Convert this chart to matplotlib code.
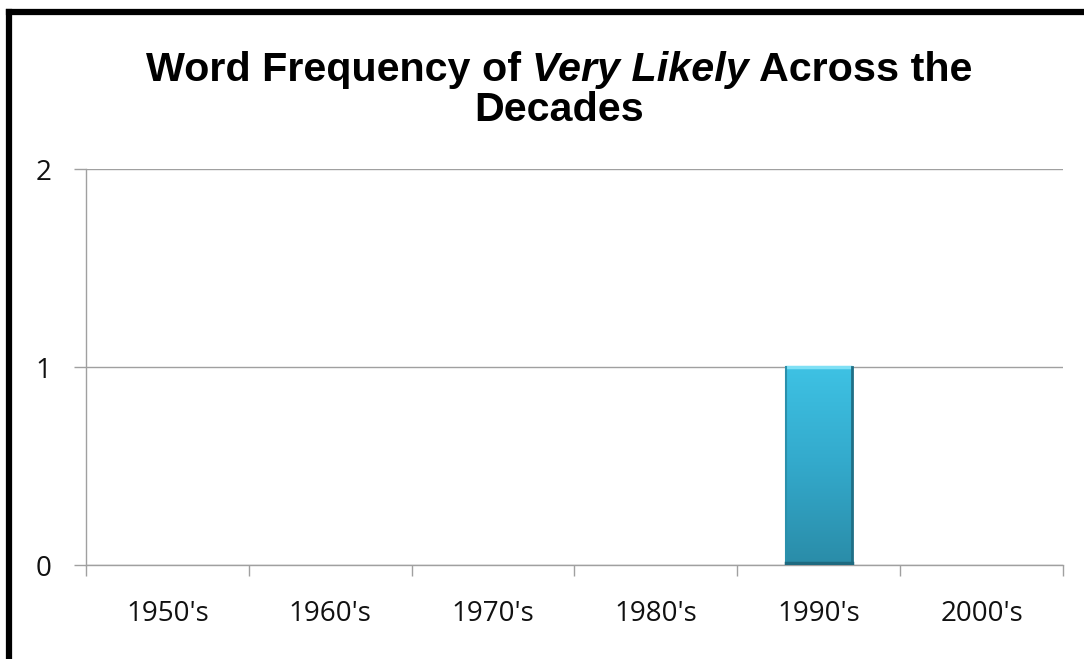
import matplotlib
matplotlib.use("Agg")
import matplotlib.pyplot as plt
import numpy as np
from matplotlib.lines import Line2D
from matplotlib.colors import LinearSegmentedColormap

categories = ["1950's", "1960's", "1970's", "1980's", "1990's", "2000's"]
values = [0, 0, 0, 0, 1, 0]
y_ticks = [0, 1, 2]

W, H = 1084, 659
fig = plt.figure(figsize=(W / 100, H / 100), dpi=100)
fig.patch.set_facecolor("white")

ax = fig.add_axes([86 / W, 1 - 565 / H, (1063 - 86) / W, (565 - 169) / H])
x = np.arange(len(categories))
bars = ax.bar(x, values, width=0.405, color="#35AED0", edgecolor="none", zorder=3)

cmap = LinearSegmentedColormap.from_list("g", ["#2A8CA8", "#33A9CB", "#3EC2E4"])
for b, v in zip(bars, values):
    if v <= 0:
        continue
    x0, w = b.get_x(), b.get_width()
    grad = np.linspace(0, 1, 256).reshape(-1, 1)
    im = ax.imshow(grad, extent=[x0, x0 + w, 0, v], origin="lower", cmap=cmap,
                   aspect="auto", zorder=4)
    im.set_clip_path(b)
    ax.plot([x0, x0 + w], [v, v], color="#7FE0F5", lw=2.5, zorder=5, solid_capstyle="butt")
    ax.plot([x0 + w, x0 + w], [0, v], color="#1F6F86", lw=2, zorder=5)
    ax.plot([x0, x0], [0, v], color="#2A90AC", lw=1.5, zorder=5)
    ax.plot([x0, x0 + w], [0.012, 0.012], color="#1E6A80", lw=2.5, zorder=5)

ax.set_xlim(-0.5, len(categories) - 0.5)
ax.set_ylim(0, 2)
ax.set_yticks(y_ticks)
ax.set_yticklabels([str(t) for t in y_ticks], fontsize=20, family="Open Sans", color="#111111")
ax.set_xticks(x)
ax.set_xticklabels(categories, fontsize=20, family="Open Sans", color="#111111")
ax.set_xticks(np.arange(-0.5, len(categories)), minor=True)
ax.tick_params(axis="x", which="major", length=0, pad=25)
ax.tick_params(axis="x", which="minor", length=8, color="#A0A0A0", width=1)
ax.tick_params(axis="y", length=9, color="#A0A0A0", width=1, pad=16)
ax.grid(axis="y", color="#A0A0A0", lw=1, zorder=0)
ax.set_axisbelow(True)
for s in ["top", "right"]:
    ax.spines[s].set_visible(False)
for s in ["left", "bottom"]:
    ax.spines[s].set_color("#A0A0A0")
    ax.spines[s].set_linewidth(1)

fs = 29.7
pieces = [("Word Frequency of ", "normal"), ("Very Likely", "italic"), (" Across the", "normal")]
fig.canvas.draw()
r = fig.canvas.get_renderer()
texts = []
for s, st in pieces:
    t = fig.text(0, 1 - 70 / H, s, ha="left", va="center", fontsize=fs, fontweight="bold",
                 style=st, family="Liberation Sans")
    texts.append(t)
widths = [t.get_window_extent(r).width for t in texts]
total = sum(widths)
xpos = (W - total) / 2 + 17
for t, wd in zip(texts, widths):
    t.set_x(xpos / W)
    xpos += wd
fig.text(0.5 + 17 / W, 1 - 110 / H, "Decades", ha="center", va="center", fontsize=fs,
         fontweight="bold", family="Liberation Sans")

fig.add_artist(Line2D([9 / W, 9 / W], [0, 1 - 12 / H], transform=fig.transFigure,
                      color="black", lw=4.5, solid_capstyle="projecting"))
fig.add_artist(Line2D([9 / W, 1], [1 - 12 / H, 1 - 12 / H], transform=fig.transFigure,
                      color="black", lw=4.5, solid_capstyle="projecting"))

fig.savefig("out.png", dpi=100)
